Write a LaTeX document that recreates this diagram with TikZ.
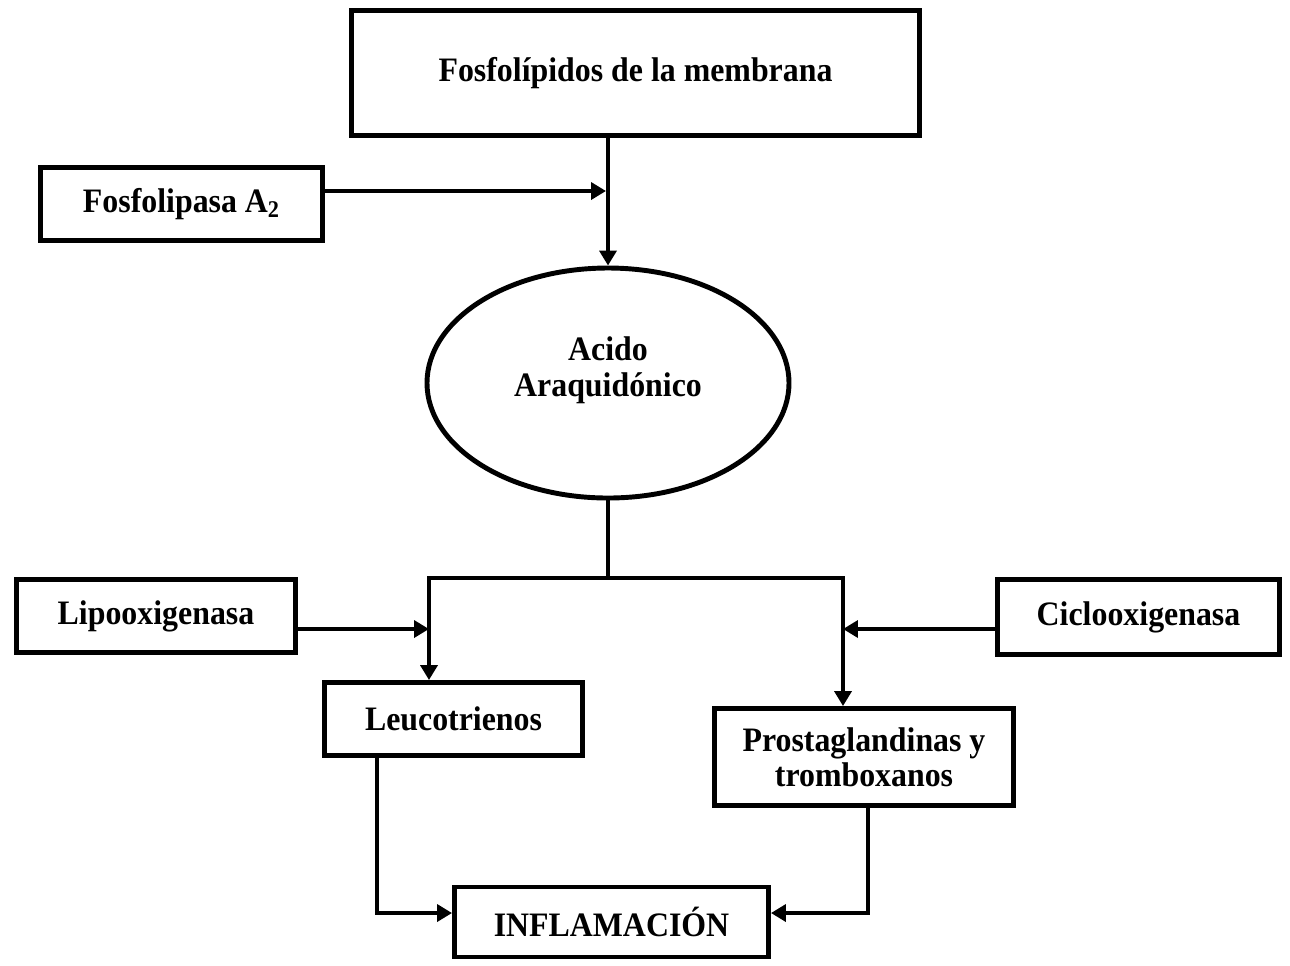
\documentclass[tikz,border=0pt]{standalone}
\usepackage{fontspec}
\setmainfont[FakeStretch=0.93]{Liberation Serif}
\usetikzlibrary{arrows.meta,shapes.geometric}
\tikzset{
  boxnode/.style={draw=black, line width=2.8pt, rectangle, inner sep=0pt, align=center,
    font=\fontsize{19.5}{20}\selectfont\bfseries},
  ellnode/.style={draw=black, line width=2.8pt, ellipse, inner sep=0pt},
  txtnode/.style={inner sep=0pt, align=center, font=\fontsize{19.5}{20.5}\selectfont\bfseries},
  conn/.style={line width=2.8pt, line join=miter},
  arr/.style={conn, -{Triangle[length=8.5pt,width=9.6pt]}}
}
\begin{document}
\begin{tikzpicture}[x=0.02cm,y=-0.02cm]
\useasboundingbox (0,0) rectangle (1290,965);
% nodes
\node[boxnode, minimum width=568*0.02cm, minimum height=125*0.02cm] (fos) at (635.5,73) {Fosfolípidos de la membrana};
\node[boxnode, minimum width=282*0.02cm, minimum height=73*0.02cm] (fla) at (181.5,204) {Fosfolipasa A\textsubscript{2}};
\node[ellnode, minimum width=362*0.02cm, minimum height=230*0.02cm] (aa) at (608,383) {};
\node[txtnode] (aat) at (608,370) {Acido\\Araquidónico};
\node[boxnode, minimum width=279*0.02cm, minimum height=73*0.02cm] (lip) at (156,616) {Lipooxigenasa};
\node[boxnode, minimum width=282*0.02cm, minimum height=75*0.02cm] (cic) at (1138.5,617) {Ciclooxigenasa};
\node[boxnode, minimum width=258*0.02cm, minimum height=73*0.02cm] (leu) at (453.5,719) {Leucotrienos};
\node[boxnode, minimum width=299*0.02cm, minimum height=97*0.02cm] (pro) at (864,757) {Prostaglandinas y\\tromboxanos};
\node[boxnode, minimum width=314*0.02cm, minimum height=70*0.02cm] (inf) at (611.5,922) {INFLAMACIÓN};
% junction coordinates
\coordinate (j1) at (606,191);
\coordinate (bl) at (429,578);
\coordinate (br) at (843,578);
\coordinate (jl) at (429,629);
\coordinate (jr) at (843,629);
\coordinate (kl) at (377,913);
\coordinate (kr) at (868,913);
% connectors
\draw[arr] (fos.south -| aa.north) -- (aa.north);
\draw[arr] (fla.east |- j1) -- (j1);
\draw[arr] (aa.south) -- (aa.south |- bl) -| (leu.north -| bl);
\draw[arr] (aa.south |- br) -| (pro.north -| br);
\draw[arr] (lip.east |- jl) -- (jl);
\draw[arr] (cic.west |- jr) -- (jr);
\draw[arr] (leu.south -| kl) |- (inf.west |- kl);
\draw[arr] (pro.south -| kr) |- (inf.east |- kr);
\end{tikzpicture}
\end{document}
